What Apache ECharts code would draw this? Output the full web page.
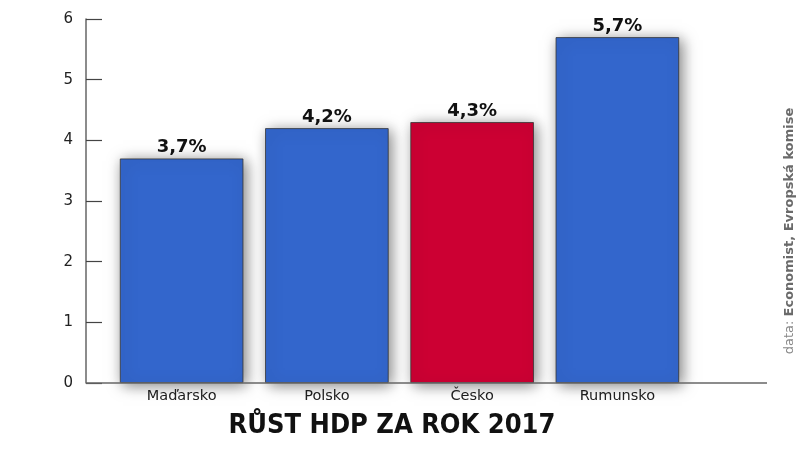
<!DOCTYPE html>
<html>
<head>
<meta charset="utf-8">
<script src="https://cdn.jsdelivr.net/npm/echarts@6/dist/echarts.min.js"></script>
<style>
html, body { margin: 0; padding: 0; background: #fff; }
#chart { width: 798px; height: 450px; }
</style>
</head>
<body>
<div id="chart"></div>
<script>
var categories = ['Maďarsko', 'Polsko', 'Česko', 'Rumunsko'];
var growth = [3.7, 4.2, 4.3, 5.7];
var yTicks = [0, 1, 2, 3, 4, 5, 6];
var highlight = 'Česko';

var chart = echarts.init(document.getElementById('chart'));

var barData = growth.map(function (v, i) {
    return {
        value: v,
        itemStyle: { color: categories[i] === highlight ? '#cc0033' : '#3366cc' }
    };
});

var option = {
    animation: false,
    grid: {
        left: 109,
        right: 108,
        top: 19,
        bottom: 67
    },
    xAxis: [
        {
            type: 'category',
            data: categories,
            axisLine: { show: false },
            axisTick: { show: false },
            axisLabel: {
                color: '#222',
                fontSize: 14.5,
                fontFamily: 'DejaVu Sans',
                margin: 6
            }
        }
    ],
    yAxis: [
        {
            type: 'value',
            min: yTicks[0],
            max: yTicks[yTicks.length - 1],
            interval: 1,
            offset: 23,
            splitLine: { show: false },
            axisLine: { show: true, lineStyle: { color: '#666', width: 1.5 } },
            axisTick: { show: true, inside: true, length: 16, lineStyle: { color: '#444', width: 1.2 } },
            axisLabel: {
                color: '#222',
                fontSize: 15,
                fontFamily: 'DejaVu Sans',
                margin: 13
            }
        }
    ],
    series: [
        {
            type: 'bar',
            data: barData,
            barCategoryGap: '15%',
            itemStyle: {
                borderColor: '#333',
                borderWidth: 0.8,
                shadowColor: 'rgba(0,0,0,0.5)',
                shadowBlur: 14,
                shadowOffsetX: 3,
                shadowOffsetY: 2
            },
            label: {
                show: true,
                position: 'top',
                distance: 2,
                color: '#111',
                fontSize: 18,
                fontWeight: 'bold',
                fontFamily: 'DejaVu Sans',
                formatter: function (p) {
                    return String(p.value).replace('.', ',') + '%';
                }
            }
        }
    ],
    graphic: [
        {
            type: 'line',
            shape: { x1: 86, y1: 383, x2: 767, y2: 383 },
            style: { stroke: '#666', lineWidth: 1.5 },
            z: 10
        },
        {
            type: 'text',
            x: 392,
            y: 426,
            style: {
                text: 'RŮST HDP ZA ROK 2017',
                fontFamily: '"DejaVu Sans Condensed", "Liberation Sans Narrow", sans-serif',
                fontWeight: 'bold',
                fontSize: 27,
                fill: '#111',
                align: 'center',
                verticalAlign: 'middle',
                shadowColor: 'rgba(0,0,0,0.4)',
                shadowBlur: 4
            }
        },
        {
            type: 'text',
            x: 790,
            y: 231,
            rotation: Math.PI / 2,
            style: {
                text: '{a|data: }{b|Economist, Evropská komise}',
                align: 'center',
                verticalAlign: 'middle',
                rich: {
                    a: { fontSize: 13, fontFamily: 'DejaVu Sans', fill: '#888' },
                    b: { fontSize: 13, fontFamily: 'DejaVu Sans', fontWeight: 'bold', fill: '#6a6a6a' }
                }
            }
        }
    ]
};

chart.setOption(option);
window.onresize = chart.resize;
</script>
</body>
</html>
